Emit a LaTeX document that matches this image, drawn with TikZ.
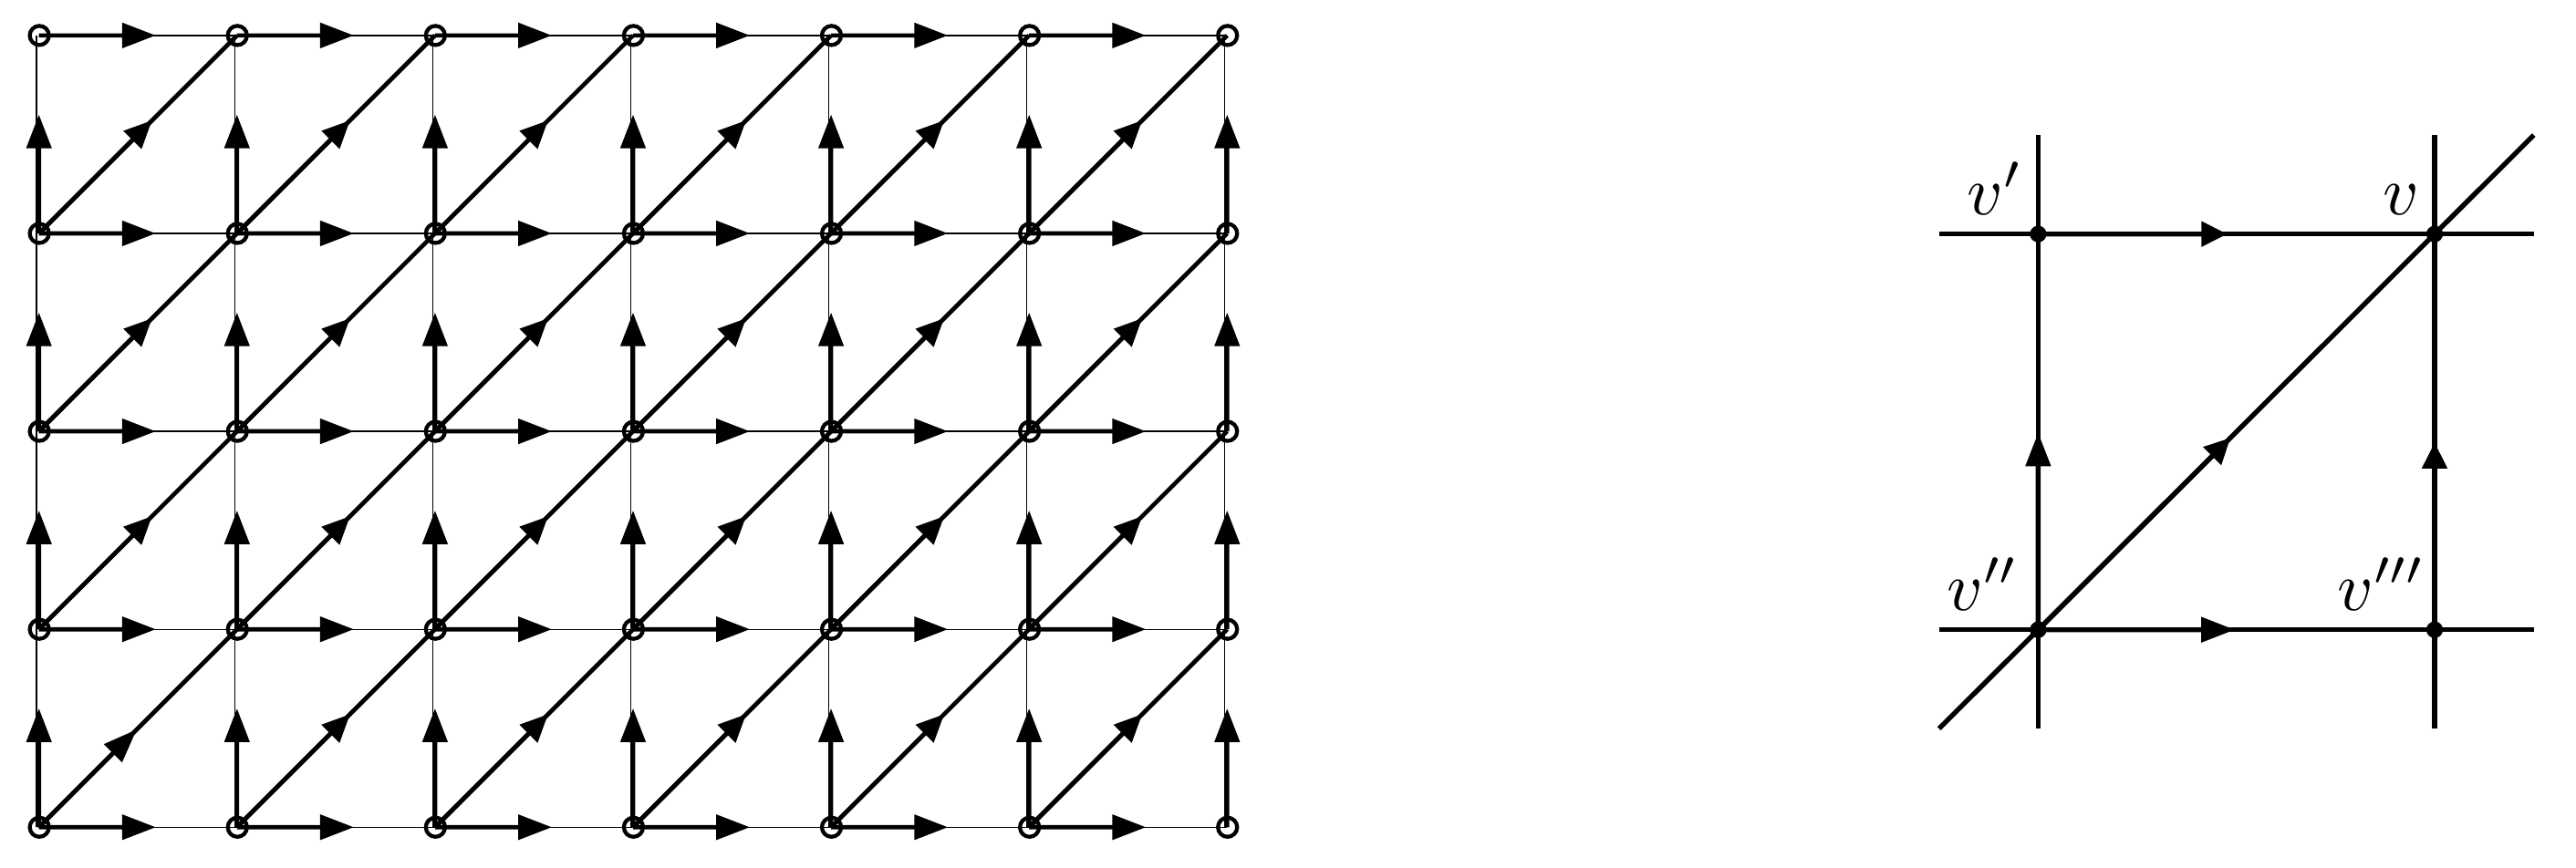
\documentclass[tikz,border=0pt]{standalone}
\usetikzlibrary{arrows.meta,calc}
\begin{document}
\begin{tikzpicture}[
  thinline/.style={line width=0.17pt},
  thickline/.style={line width=0.62pt},
  rline/.style={line width=0.7pt},
  longtip/.style={-{Triangle[length=1.7mm,width=1.24mm]}},
  diagtip/.style={-{Triangle[length=1.4mm,width=1.24mm]}},
  shorttip/.style={-{Triangle[length=1.31mm,width=1.24mm]}},
  ring/.style={line width=0.56pt},
  vlabel/.style={anchor=south east,inner sep=0pt}
]
\useasboundingbox (0,0) rectangle (13.008,4.385);

% ---- left lattice ----
\foreach \i in {0,...,6}
  \foreach \j in {0,...,4}
    \coordinate (n\i-\j) at (0.1967+\i,0.2059+\j);

% thin grid
\foreach \j in {0,...,4}
  \draw[thinline] (n0-\j) -- (n6-\j);
\foreach \i in {0,...,6}
  \draw[thinline] ($(n\i-0)+(-0.012,0)$) -- ($(n\i-4)+(-0.012,0)$);

% horizontal arrows
\foreach \i [count=\ip from 1] in {0,...,5}
  \foreach \j in {0,...,4}
    \draw[thickline,longtip] (n\i-\j) -- ($(n\i-\j)!0.59!(n\ip-\j)$);

% vertical arrows
\foreach \i in {0,...,6}
  \foreach \j [count=\jp from 1] in {0,...,3}
    \draw[thickline,longtip] (n\i-\j) -- ($(n\i-\j)!0.6!(n\i-\jp)$);

% diagonals
\foreach \i [count=\ip from 1] in {0,...,5}
  \foreach \j [count=\jp from 1] in {0,...,3}
    \draw[thickline] (n\i-\j) -- (n\ip-\jp);
\foreach \i [count=\ip from 1] in {0,...,5}
  \foreach \j [count=\jp from 1] in {0,...,3}{
    \ifnum\i=0 \ifnum\j=0
      \draw[thickline,longtip] (n\i-\j) -- ($(n\i-\j)!0.494!(n\ip-\jp)$);
    \else
      \draw[thickline,diagtip] (n\i-\j) -- ($(n\i-\j)!0.571!(n\ip-\jp)$);
    \fi\else
      \draw[thickline,diagtip] (n\i-\j) -- ($(n\i-\j)!0.571!(n\ip-\jp)$);
    \fi
  }

% rings
\foreach \i in {0,...,6}
  \foreach \j in {0,...,4}
    \draw[ring] ($(n\i-\j)+(0.002,0)$) circle[radius=0.0484];

% ---- right diagram ----
\coordinate (vA) at (12.294,3.2027); % v
\coordinate (vB) at (10.292,3.2027); % v'
\coordinate (vC) at (10.292,1.2036); % v''
\coordinate (vD) at (12.294,1.2036); % v'''

\draw[rline] ($(vB)!-0.25!(vA)$) -- ($(vB)!1.25!(vA)$);
\draw[rline] ($(vC)!-0.25!(vD)$) -- ($(vC)!1.25!(vD)$);
\draw[rline] ($(vC)!-0.25!(vB)$) -- ($(vC)!1.25!(vB)$);
\draw[rline] ($(vD)!-0.25!(vA)$) -- ($(vD)!1.25!(vA)$);
\draw[rline] ($(vC)!-0.25!(vA)$) -- ($(vC)!1.25!(vA)$);

\draw[rline,shorttip] (vB) -- ($(vB)!0.477!(vA)$);
\draw[rline,longtip] (vC) -- ($(vC)!0.496!(vD)$);
\draw[rline,longtip] (vC) -- ($(vC)!0.498!(vB)$);
\draw[rline,shorttip] (vD) -- ($(vD)!0.473!(vA)$);
\draw[rline,shorttip] (vC) -- ($(vC)!0.485!(vA)$);

\foreach \p in {vA,vB,vC,vD}
  \fill (\p) circle[radius=0.042];

\node[vlabel] (lA) at ($(vA)+(-0.07,0.09)$) {$v$};
\node[vlabel] (lB) at ($(vB)+(-0.07,0.09)$) {$v'$};
\node[vlabel] (lC) at ($(vC)+(-0.09,0.09)$) {$v''$};
\node[vlabel] (lD) at ($(vD)+(-0.04,0.09)$) {$v'''$};
\end{tikzpicture}
\end{document}
